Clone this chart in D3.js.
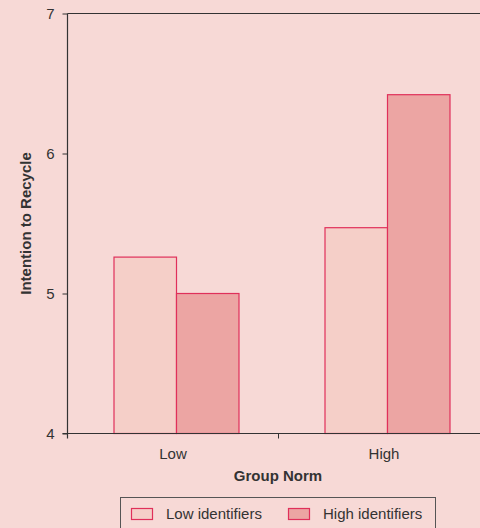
<!DOCTYPE html>
<html><head><meta charset="utf-8">
<script src="https://cdn.jsdelivr.net/npm/d3@7"></script>
<style>html,body{margin:0;padding:0;background:#f7d9d6;}svg{display:block;}</style>
</head><body>
<script>
const categories = ["Low", "High"];
const seriesNames = ["Low identifiers", "High identifiers"];
const lowIdentifiers = [5.26, 5.47];
const highIdentifiers = [5.00, 6.42];
const yTicks = [4, 5, 6, 7];

(function () {
const W = 480, H = 528;
const bg = "#f7d9d6";
const fills = ["#f5cfc8", "#eca5a3"];
const strokes = ["#e0305a", "#e0305a"];
const font = "'Liberation Sans', Arial, sans-serif";
const fs = 15;

const svg = d3.select("body").append("svg").attr("width", W).attr("height", H);
svg.append("rect").attr("width", W).attr("height", H).attr("fill", bg);

const pLeft = 67.5, pTop = 13.5, pBottom = 433.5, pRight = 489.5;
const y = d3.scaleLinear().domain([4, 7]).range([pBottom, pTop]);
const x = d3.scaleBand().domain(categories).range([pLeft, pRight]).paddingInner(0).paddingOuter(0);
const inner = d3.scaleBand().domain(seriesNames).range([0, 125]);

const data = categories.map((c, i) => ({cat: c, vals: [lowIdentifiers[i], highIdentifiers[i]]}));

// bars
const g = svg.append("g");
data.forEach(d => {
  const x0 = x(d.cat) + x.bandwidth() / 2 - 62.5 + 3;
  d.vals.forEach((v, j) => {
    g.append("rect")
      .attr("x", x0 + inner(seriesNames[j]) + 0.5)
      .attr("y", y(v))
      .attr("width", inner.bandwidth())
      .attr("height", y(4) - y(v))
      .attr("fill", fills[j])
      .attr("stroke", strokes[j])
      .attr("stroke-width", 1.2);
  });
});

// axes
const yAxis = d3.axisLeft(y).tickValues(yTicks).tickFormat(d3.format("d")).tickSize(5).tickPadding(8);
const ya = svg.append("g").attr("transform", `translate(${pLeft},0)`).call(yAxis);
ya.select(".domain").remove();
ya.selectAll(".tick line").attr("stroke", "#333");
ya.selectAll("text").attr("font-family", font).attr("font-size", fs).attr("fill", "#333");

svg.append("line").attr("x1", pLeft).attr("x2", pLeft).attr("y1", pTop).attr("y2", pBottom + 5).attr("stroke", "#333").attr("stroke-width", 1.2);
svg.append("line").attr("x1", pLeft).attr("x2", W).attr("y1", pTop).attr("y2", pTop).attr("stroke", "#333").attr("stroke-width", 1.2);
svg.append("line").attr("x1", pLeft - 5).attr("x2", W).attr("y1", pBottom).attr("y2", pBottom).attr("stroke", "#333").attr("stroke-width", 1.2);

// category tick at boundary between bands
svg.append("line").attr("x1", x("High")).attr("x2", x("High")).attr("y1", pBottom).attr("y2", pBottom + 5).attr("stroke", "#333");

// category labels
svg.selectAll(".cat").data(categories).enter().append("text")
  .attr("x", d => x(d) + x.bandwidth() / 2)
  .attr("y", 459)
  .attr("text-anchor", "middle")
  .attr("font-family", font).attr("font-size", fs).attr("fill", "#333")
  .text(d => d);

svg.append("text").attr("x", 278).attr("y", 481).attr("text-anchor", "middle")
  .attr("font-family", font).attr("font-size", fs).attr("font-weight", "bold").attr("fill", "#333")
  .text("Group Norm");

svg.append("text").attr("transform", "translate(30.5,223.5) rotate(-90)").attr("text-anchor", "middle")
  .attr("font-family", font).attr("font-size", fs).attr("font-weight", "bold").attr("fill", "#333")
  .text("Intention to Recycle");

// legend
svg.append("rect").attr("x", 120.5).attr("y", 497.5).attr("width", 315).attr("height", 40)
  .attr("fill", "none").attr("stroke", "#555").attr("stroke-width", 1);
const legX = [131, 288];
seriesNames.forEach((s, j) => {
  svg.append("rect").attr("x", legX[j] + 0.5).attr("y", 508.5).attr("width", 21).attr("height", 11)
    .attr("fill", fills[j]).attr("stroke", strokes[j]).attr("stroke-width", 1.2);
  svg.append("text").attr("x", legX[j] + 35).attr("y", 518.5)
    .attr("font-family", font).attr("font-size", fs).attr("fill", "#333").text(s);
});
})();
</script>
</body></html>
